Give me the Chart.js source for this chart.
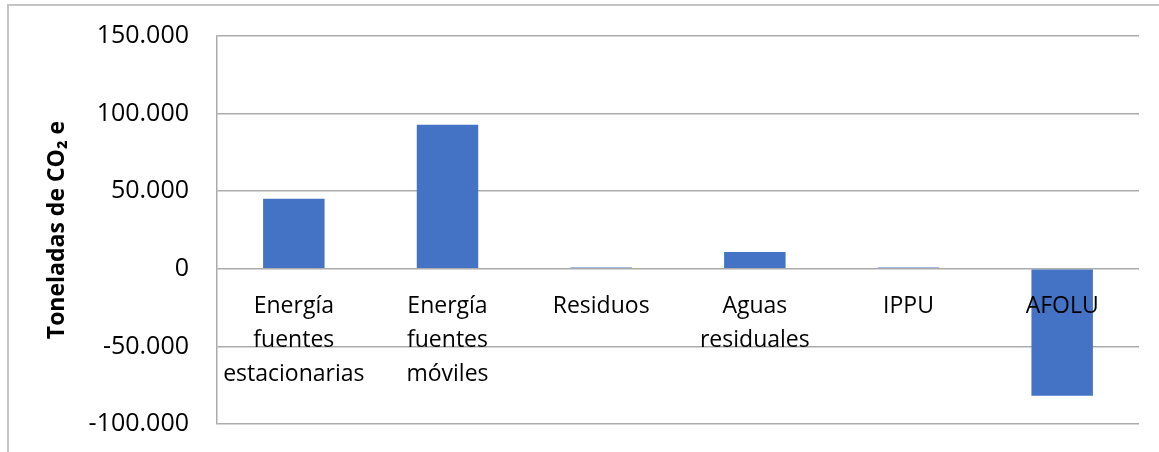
<!doctype html>
<html lang="es">
<head>
  <meta charset="utf-8">
  <title>Emisiones por sector</title>
  <script src="https://cdn.jsdelivr.net/npm/chart.js@4.4.1/dist/chart.umd.min.js"></script>
  <style>
    html, body { margin: 0; padding: 0; background: #fff; overflow: hidden; }
    .frame {
      position: absolute; left: 7px; top: 4px; width: 1170px; height: 470px;
      border-left: 2px solid #c4c4c4; border-top: 2px solid #c4c4c4;
    }
    #chart { position: absolute; left: 0; top: 0; }
  </style>
</head>
<body>
  <div class="frame"></div>
  <canvas id="chart" width="1159" height="452"></canvas>
  <script>
    // sectores (etiquetas partidas en lineas como en el grafico)
    const categories = [
      ['Energía', 'fuentes', 'estacionarias'],
      ['Energía', 'fuentes', 'móviles'],
      ['Residuos'],
      ['Aguas', 'residuales'],
      ['IPPU'],
      ['AFOLU']
    ];
    // toneladas de CO2 e por sector
    const emisiones = [45100, 92800, 800, 10900, 900, -81800];
    const yTicks = [-100000, -50000, 0, 50000, 100000, 150000];

    const fmt = v => {
      const s = Math.abs(v).toString().replace(/\B(?=(\d{3})+(?!\d))/g, '.');
      return (v < 0 ? '-' : '') + s;
    };

    // sin relleno automatico: el area util la fija layout.padding
    const noPad = scale => {
      scale.paddingTop = 0;
      scale.paddingBottom = 0;
      scale.paddingLeft = 0;
      scale.paddingRight = 0;
    };

    const ctx = document.getElementById('chart');
    new Chart(ctx, {
      type: 'bar',
      data: {
        labels: categories,
        datasets: [{
          data: emisiones,
          backgroundColor: '#4472C4',
          barPercentage: 0.4,
          categoryPercentage: 1
        }]
      },
      options: {
        responsive: false,
        animation: false,
        layout: { padding: { top: 36, bottom: 28, right: 20, left: 0 } },
        plugins: { legend: { display: false }, tooltip: { enabled: false } },
        scales: {
          x: {
            position: { y: 0 },
            afterFit: noPad,
            grid: { display: false, drawTicks: false },
            border: { display: false },
            ticks: {
              z: 1, // etiquetas encima de las barras
              color: '#000',
              padding: 21,
              maxRotation: 0,
              autoSkip: false,
              font: { family: 'Open Sans', size: 23, lineHeight: 1.48 }
            }
          },
          y: {
            min: yTicks[0],
            max: yTicks[yTicks.length - 1],
            afterBuildTicks: scale => { scale.ticks = yTicks.map(v => ({ value: v })); },
            afterFit: scale => { scale.width = 217; noPad(scale); },
            grid: { color: '#ababab', lineWidth: 1.5, drawTicks: false },
            border: { display: true, color: '#ababab', width: 1.5 },
            ticks: {
              color: '#000',
              padding: 28,
              font: { family: 'Open Sans', size: 25 },
              callback: v => fmt(v)
            },
            title: {
              display: true,
              text: 'Toneladas de CO₂ e',
              color: '#000',
              padding: { top: 44, bottom: 0 },
              font: { family: 'Open Sans', size: 23, weight: 'bold' }
            }
          }
        }
      }
    });
  </script>
</body>
</html>
